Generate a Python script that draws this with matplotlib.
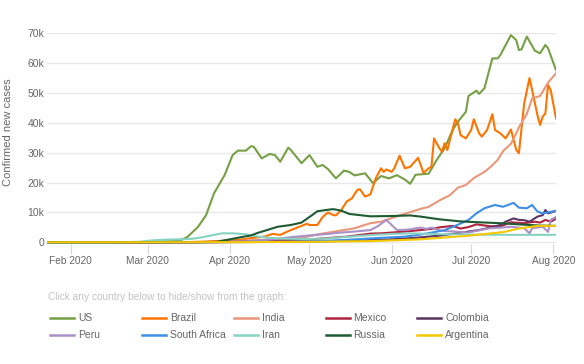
import pandas as pd
import matplotlib
matplotlib.use("Agg")
import matplotlib.pyplot as plt
import matplotlib.dates as mdates
from matplotlib.lines import Line2D
from matplotlib.ticker import FuncFormatter

plt.rcParams['font.family'] = ['Liberation Sans', 'DejaVu Sans']

# daily confirmed new cases (smoothed)
us_dates = ["01-23", "02-20", "03-01", "03-08", "03-13", "03-16", "03-20", "03-23", "03-26", "03-30",
            "04-02", "04-04", "04-07", "04-09", "04-10", "04-13", "04-16", "04-18", "04-20", "04-23",
            "04-24", "04-28", "05-01", "05-04", "05-06", "05-08", "05-11", "05-14", "05-16", "05-18",
            "05-22", "05-25", "05-28", "05-31", "06-03", "06-06", "06-08", "06-10", "06-15", "06-18",
            "06-21", "06-24", "06-26", "06-29", "06-30", "07-03", "07-04", "07-06", "07-09", "07-11",
            "07-12", "07-16", "07-18", "07-19", "07-20", "07-22", "07-25", "07-27", "07-29", "07-30",
            "08-02"]
us_cases = [0, 10, 100, 300, 500, 1800, 5200, 9100, 16400, 22500,
            29200, 30700, 30700, 32200, 32000, 28100, 29600, 29200, 27000, 31700,
            30900, 26500, 29200, 25300, 25900, 24500, 21400, 24000, 23600, 22400,
            23100, 19800, 22200, 21400, 22500, 21000, 19600, 22600, 23000, 27600,
            31500, 37600, 40400, 43700, 49000, 50800, 49700, 51600, 61600, 61600,
            62700, 69400, 67700, 64400, 64600, 68900, 64200, 63300, 66100, 65000,
            57700]

brazil_dates = ["01-23", "03-10", "03-20", "03-28", "04-04", "04-09", "04-14", "04-17", "04-20", "04-24",
                "04-28", "04-30", "05-01", "05-04", "05-06", "05-08", "05-10", "05-11", "05-13", "05-15",
                "05-17", "05-19", "05-20", "05-22", "05-24", "05-26", "05-28", "05-29", "05-30", "06-01",
                "06-02", "06-04", "06-06", "06-08", "06-11", "06-13", "06-15", "06-16", "06-17", "06-19",
                "06-20", "06-21", "06-22", "06-25", "06-26", "06-27", "06-29", "07-01", "07-02", "07-04",
                "07-05", "07-07", "07-09", "07-10", "07-12", "07-14", "07-16", "07-18", "07-19", "07-21",
                "07-23", "07-24", "07-26", "07-27", "07-28", "07-29", "07-30", "07-31", "08-02"]
brazil_cases = [0, 0, 150, 450, 800, 1400, 1900, 2800, 2500, 4100,
                5500, 6200, 5800, 5800, 8500, 10000, 9100, 9000, 10800, 13600,
                14700, 17500, 17800, 15300, 16100, 21400, 24800, 23600, 24400, 23600,
                24800, 29000, 24800, 25300, 28300, 23300, 24800, 25300, 34800, 31500,
                30300, 33200, 30900, 41200, 39900, 35900, 34800, 37600, 41200, 36500,
                35400, 37600, 42900, 37600, 36500, 34800, 37800, 31000, 29800, 46500,
                55000, 51000, 42600, 39300, 42100, 43200, 52700, 51000, 41500]

india_dates = ["01-23", "03-15", "03-28", "04-05", "04-15", "04-28", "05-05", "05-12", "05-18", "05-24",
               "05-28", "06-04", "06-12", "06-15", "06-19", "06-23", "06-26", "06-29", "07-02", "07-06",
               "07-08", "07-11", "07-13", "07-16", "07-18", "07-19", "07-22", "07-24", "07-27", "07-30",
               "08-02"]
india_cases = [0, 20, 100, 500, 900, 1500, 2800, 3800, 4700, 6400,
               6900, 9000, 11200, 11900, 14000, 15800, 18300, 19200, 21500, 23600,
               25000, 27600, 30500, 33000, 36500, 38500, 43000, 48200, 49000, 53500,
               56600]

mexico_dates = ["01-23", "03-25", "04-05", "04-15", "04-25", "05-03", "05-15", "05-24", "05-28", "06-06",
                "06-12", "06-17", "06-19", "06-24", "06-27", "06-30", "07-03", "07-08", "07-12", "07-16",
                "07-21", "07-25", "07-27", "07-29", "07-31", "08-02"]
mexico_cases = [0, 50, 200, 450, 800, 1100, 1900, 2900, 3000, 3600,
                4100, 4600, 5000, 5500, 4600, 5100, 6000, 5400, 5300, 6700,
                6400, 6900, 6600, 7500, 6900, 7900]

colombia_dates = ["01-23", "04-01", "04-20", "05-05", "05-20", "06-01", "06-10", "06-20", "06-30", "07-04",
                  "07-08", "07-12", "07-14", "07-17", "07-19", "07-21", "07-23", "07-26", "07-28", "07-29",
                  "07-30", "08-02"]
colombia_cases = [0, 50, 150, 300, 600, 1000, 1500, 2300, 3600, 4100,
                  4900, 5800, 6900, 8000, 7500, 7400, 6900, 8600, 9100, 10800,
                  9700, 10500]

peru_dates = ["01-23", "03-25", "04-05", "04-15", "04-25", "05-01", "05-08", "05-12", "05-18", "05-24",
              "05-27", "05-30", "06-03", "06-06", "06-08", "06-10", "06-12", "06-14", "06-16", "06-20",
              "06-25", "06-30", "07-04", "07-08", "07-12", "07-16", "07-21", "07-23", "07-24", "07-28",
              "07-30", "07-31", "08-02"]
peru_cases = [0, 50, 200, 800, 1800, 2300, 2800, 3200, 3600, 4100,
              5500, 7500, 4100, 4200, 4300, 4700, 4900, 4500, 4900, 3800,
              3600, 3300, 4000, 4700, 4900, 5200, 4700, 3000, 4700, 5200,
              3500, 7500, 8500]

safrica_dates = ["01-23", "03-20", "04-01", "04-15", "05-01", "05-15", "05-24", "06-06", "06-12", "06-17",
                 "06-21", "06-25", "06-30", "07-03", "07-06", "07-10", "07-13", "07-17", "07-19", "07-22",
                 "07-24", "07-26", "07-28", "07-31", "08-02"]
safrica_cases = [0, 50, 100, 150, 300, 800, 1300, 1900, 2600, 3400,
                 4100, 5500, 7500, 9700, 11400, 12500, 11900, 13200, 11600, 11400,
                 12500, 10300, 9700, 10200, 10500]

iran_dates = ["01-23", "02-20", "02-27", "03-02", "03-08", "03-14", "03-18", "03-21", "03-25", "03-29",
              "04-02", "04-07", "04-11", "04-16", "04-22", "04-30", "05-08", "05-15", "05-24", "06-01",
              "06-08", "06-20", "07-01", "07-15", "08-02"]
iran_cases = [0, 0, 200, 600, 900, 1000, 1200, 1600, 2300, 3000,
              3000, 2700, 2000, 1500, 1200, 1100, 1300, 1800, 2400, 2800,
              3000, 2700, 2600, 2500, 2500]

russia_dates = ["01-23", "03-20", "03-27", "04-01", "04-05", "04-09", "04-11", "04-15", "04-19", "04-24",
                "04-28", "05-02", "05-04", "05-08", "05-10", "05-13", "05-16", "05-24", "06-01", "06-08",
                "06-12", "06-19", "06-27", "07-04", "07-12", "07-19", "07-27", "08-02"]
russia_cases = [0, 30, 150, 1000, 1700, 2300, 3000, 4100, 5200, 5800,
                6600, 9100, 10400, 10900, 11100, 10600, 9500, 8700, 8800, 9000,
                8600, 7700, 7000, 6700, 6400, 6000, 5600, 5500]

argentina_dates = ["01-23", "04-01", "05-01", "05-24", "06-12", "06-30", "07-13", "07-19", "07-26", "08-02"]
argentina_cases = [0, 50, 150, 400, 1000, 2200, 3400, 4600, 5500, 5500]

countries = ["US", "Brazil", "India", "Mexico", "Colombia",
             "Peru", "South Africa", "Iran", "Russia", "Argentina"]
all_dates = [us_dates, brazil_dates, india_dates, mexico_dates, colombia_dates,
             peru_dates, safrica_dates, iran_dates, russia_dates, argentina_dates]
all_cases = [us_cases, brazil_cases, india_cases, mexico_cases, colombia_cases,
             peru_cases, safrica_cases, iran_cases, russia_cases, argentina_cases]
colors = ["#76a045", "#ff7400", "#e9967a", "#b0243f", "#5c3461",
          "#a990c8", "#3c8ee6", "#87d3c3", "#1e5a32", "#f5c800"]

W, H = 584, 364
fig = plt.figure(figsize=(W / 100, H / 100), dpi=100)
ax = fig.add_axes([47 / W, 1 - 243.7 / H, 509 / W, (243.7 - 33.3) / H])

for name, d, c, col in zip(countries, all_dates, all_cases, colors):
    x = pd.to_datetime(["2020-" + s for s in d])
    ax.plot(x, c, color=col, lw=1.5, label=name, solid_joinstyle="round")

ax.set_xlim(pd.Timestamp("2020-01-23"), pd.Timestamp("2020-08-02"))
ax.set_ylim(-470, 70000)
ax.set_yticks(range(0, 70001, 10000))
ax.yaxis.set_major_formatter(FuncFormatter(lambda v, p: "0" if v == 0 else f"{v / 1000:.0f}k"))
ax.xaxis.set_major_locator(mdates.MonthLocator())
ax.xaxis.set_major_formatter(mdates.DateFormatter("%b %Y"))

ax.yaxis.grid(True, color="#e8e8e8", lw=1)
ax.set_axisbelow(True)
for s in ax.spines.values():
    s.set_visible(False)
ax.tick_params(axis="y", length=0, pad=2, labelsize=7.5, labelcolor="#666666")
ax.tick_params(axis="x", length=7, width=0.8, color="#d8d8d8", pad=2, labelsize=7.3, labelcolor="#666666")

fig.text(8.3 / W, 1 - 132.5 / H, "Confirmed new cases", rotation=90, ha="center", va="center",
         fontsize=8, color="#666666")

# legend laid out like the page: two rows of five
fig.text(47.6 / W, 1 - 297 / H, "Click any country below to hide/show from the graph:",
         ha="left", va="center", fontsize=7.3, color="#c4c4c4")
for i, (name, col) in enumerate(zip(countries, colors)):
    row, colnum = divmod(i, 5)
    x0 = (49.8 + colnum * 91.9) / W
    y0 = 1 - (317.6 + row * 17.1) / H
    fig.add_artist(Line2D([x0, x0 + 24 / W], [y0, y0], color=col, lw=1.8, transform=fig.transFigure))
    fig.text(x0 + 28 / W, y0, name, ha="left", va="center", fontsize=7.5, color="#666666")

fig.savefig("out.png", dpi=100)
